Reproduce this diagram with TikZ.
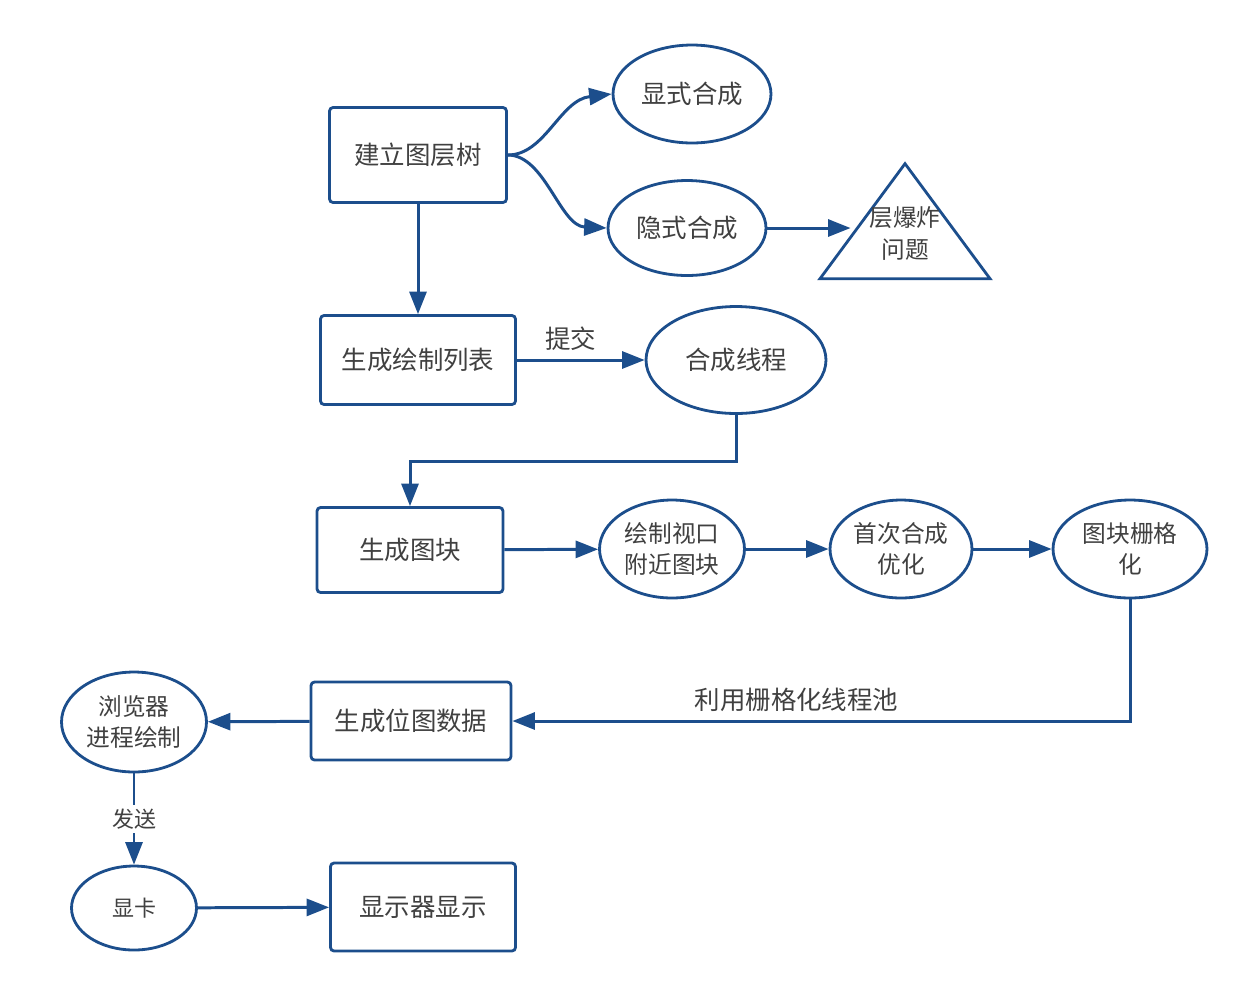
\documentclass[tikz,border=0pt]{standalone}
\usepackage{fontspec}
\newfontfamily\cjk{Noto Sans CJK SC}
\usetikzlibrary{arrows.meta,shapes.geometric}
\definecolor{lineblue}{RGB}{28,78,140}
\definecolor{txtgray}{RGB}{64,64,64}

\begin{document}
\begin{tikzpicture}[x=0.02cm, y=-0.02cm,
    font=\cjk\fontsize{14.5}{18}\selectfont, text=txtgray,
    box/.style={rectangle, rounded corners=2pt, draw=lineblue, line width=1.6pt, inner sep=0pt, align=center},
    oval/.style={ellipse, draw=lineblue, line width=1.6pt, inner sep=0pt, align=center, font=\cjk\fontsize{13.5}{18}\selectfont},
    link/.style={draw=lineblue, line width=1.7pt, -{Triangle[length=0.45cm,width=0.34cm]}}]

                    \useasboundingbox (0,0) rectangle (1260,992);

                    \node[box, minimum width=3.54cm, minimum height=1.9cm] (tree) at (418,155) {建立图层树};
                    \node[oval, minimum width=3.16cm, minimum height=1.96cm, font=\cjk\fontsize{14.5}{18}\selectfont] (explicit) at (692,94) {显式合成};
                    \node[oval, minimum width=3.16cm, minimum height=1.9cm, font=\cjk\fontsize{14.5}{18}\selectfont] (implicit) at (687,228) {隐式合成};
                    \node[isosceles triangle, isosceles triangle stretches, shape border rotate=90, draw=lineblue, line width=1.6pt, inner sep=0pt,
                        minimum width=3.4cm, minimum height=2.3cm, anchor=apex, font=\cjk\fontsize{13.5}{18}\selectfont] (boom) at (905,160)
                        {\makebox[0pt]{\smash{\raisebox{-0.13cm}{\begin{tabular}{@{}c@{}}层爆炸\\问题\end{tabular}}}}};
                    \node[box, minimum width=3.9cm, minimum height=1.78cm] (list) at (418,360) {生成绘制列表};
                    \node[oval, minimum width=3.6cm, minimum height=2.14cm, font=\cjk\fontsize{14.5}{18}\selectfont] (comp) at (736,360) {合成线程};
                    \node[box, minimum width=3.72cm, minimum height=1.7cm] (tiles) at (410,550) {生成图块};
                    \node[oval, minimum width=2.9cm, minimum height=1.96cm] (view) at (672,549) {绘制视口\\附近图块};
                    \node[oval, minimum width=2.84cm, minimum height=1.96cm] (first) at (901,549) {首次合成\\优化};
                    \node[oval, minimum width=3.08cm, minimum height=1.96cm] (raster) at (1130,549) {图块栅格\\化};
                    \node[box, minimum width=4cm, minimum height=1.56cm] (bitmap) at (411,721) {生成位图数据};
                    \node[oval, minimum width=2.9cm, minimum height=2cm] (browser) at (134,722) {浏览器\\进程绘制};
                    \node[oval, minimum width=2.5cm, minimum height=1.68cm, font=\cjk\fontsize{12.5}{16}\selectfont] (gpu) at (134,908) {显卡};
                    \node[box, minimum width=3.7cm, minimum height=1.76cm] (screen) at (423,907) {显示器显示};

                    \draw[link] (tree.east) .. controls (545,155) and (560,100) .. (explicit.west);
                    \draw[link] (tree.east) .. controls (545,155) and (560,226) .. (implicit.west);
                    \draw[link, shorten >=6pt] (implicit.east) -- (implicit.east -| boom.left side);
                    \draw[link] (tree) -- (list);
                    \draw[link] (list) -- node[pos=0.42, above=1pt] {提交} (comp);
                    \draw[link] (comp.south) -- ++(0,47) -| (tiles.north);
                    \draw[link] (tiles) -- (view);
                    \draw[link] (view) -- (first);
                    \draw[link] (first) -- (raster);
                    \draw[link] (raster.south) |- node[pos=0.77, above=1pt] {利用栅格化线程池} (bitmap.east);
                    \draw[link] (bitmap) -- (browser);
                    \draw[link] (browser) -- node[fill=white, inner sep=2pt, font=\cjk\fontsize{12.5}{16}\selectfont] {发送} (gpu);
                    \draw[link] (gpu) -- (screen);

                \end{tikzpicture}
\end{document}
